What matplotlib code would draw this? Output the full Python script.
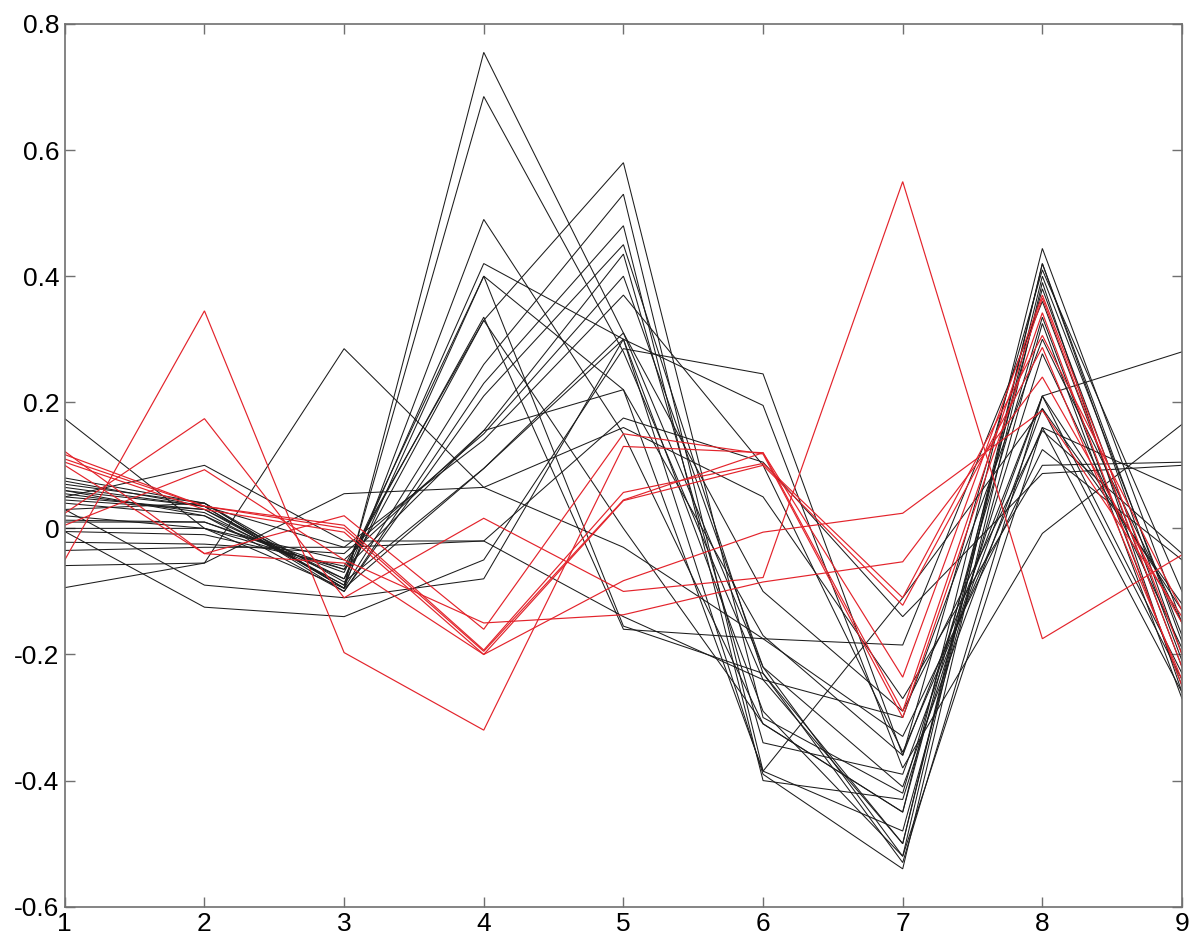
import matplotlib
matplotlib.use("Agg")
import matplotlib.pyplot as plt

# --------------------------------------------------------------------------- #
#  DATA  (one row per profile)
# --------------------------------------------------------------------------- #
positions = [1, 2, 3, 4, 5, 6, 7, 8, 9]

black_profiles = [
    [0.060, 0.035, -0.095, 0.755, 0.310, -0.220, -0.520, 0.420, -0.200],
    [0.050, 0.030, -0.090, 0.685, 0.280, -0.240, -0.500, 0.400, -0.170],
    [0.070, 0.040, -0.095, 0.490, 0.150, -0.310, -0.450, 0.444, -0.150],
    [0.040, 0.020, -0.080, 0.420, 0.300, -0.390, -0.540, 0.390, -0.260],
    [0.013, 0.010, -0.070, 0.400, 0.220, -0.170, -0.360, 0.410, -0.100],
    [0.000, 0.000, -0.065, 0.335, -0.160, -0.175, -0.185, 0.360, -0.220],
    [-0.005, -0.010, -0.060, 0.330, 0.580, -0.300, -0.420, 0.335, -0.250],
    [0.080, 0.040, -0.095, 0.260, 0.530, -0.385, -0.480, 0.325, -0.270],
    [0.075, 0.035, -0.100, 0.230, 0.480, -0.400, -0.430, 0.277, -0.190],
    [0.060, 0.020, -0.100, 0.210, 0.450, -0.230, -0.530, 0.210, -0.130],
    [0.020, 0.000, -0.050, 0.155, 0.435, -0.340, -0.390, 0.210, -0.230],
    [-0.022, -0.025, -0.040, 0.150, 0.400, -0.220, -0.410, 0.190, -0.240],
    [-0.035, -0.030, -0.030, 0.140, 0.370, 0.100, -0.355, 0.160, 0.060],
    [0.174, 0.000, -0.095, 0.095, 0.310, -0.100, -0.290, 0.155, -0.040],
    [-0.059, -0.055, 0.285, 0.065, -0.030, -0.175, -0.330, 0.125, -0.050],
    [-0.094, -0.055, 0.055, 0.065, 0.160, 0.050, -0.270, 0.100, 0.105],
    [0.050, 0.100, -0.020, -0.020, 0.175, 0.105, -0.140, 0.087, 0.100],
    [0.030, -0.090, -0.110, -0.080, 0.300, 0.195, -0.380, -0.008, 0.165],
    [-0.005, -0.125, -0.140, -0.050, 0.285, 0.245, -0.360, 0.210, 0.280],
    [0.065, 0.035, -0.030, -0.020, -0.140, -0.240, -0.300, 0.300, -0.150],
    [0.045, 0.030, -0.080, 0.330, 0.000, -0.310, -0.450, 0.380, -0.210],
    [0.055, 0.025, -0.090, 0.400, -0.155, -0.230, -0.500, 0.420, -0.180],
    [0.010, 0.010, -0.065, 0.155, 0.220, -0.385, -0.110, 0.190, -0.120],
    [0.030, 0.040, -0.085, 0.095, 0.300, -0.290, -0.520, 0.160, -0.260],
]

red_profiles = [
    [-0.050, 0.345, -0.197, -0.320, 0.130, 0.120, -0.236, 0.370, -0.200],
    [0.024, 0.174, -0.110, 0.016, -0.100, -0.078, 0.550, -0.175, -0.042],
    [0.005, 0.093, -0.050, -0.150, -0.137, -0.085, -0.053, 0.240, -0.150],
    [0.122, -0.040, 0.020, -0.160, 0.150, 0.118, -0.300, 0.342, -0.250],
    [0.117, 0.035, 0.005, -0.193, 0.057, 0.103, -0.110, 0.306, -0.130],
    [0.105, 0.030, -0.006, -0.200, 0.044, 0.100, -0.122, 0.287, -0.240],
    [0.100, -0.040, -0.055, -0.200, -0.083, -0.006, 0.024, 0.187, -0.140],
    [0.110, 0.035, 0.000, -0.195, 0.045, 0.120, -0.290, 0.365, -0.220],
]

y_ticks = [-0.6, -0.4, -0.2, 0, 0.2, 0.4, 0.6, 0.8]
y_labels = ["-0.6", "-0.4", "-0.2", "0", "0.2", "0.4", "0.6", "0.8"]

# --------------------------------------------------------------------------- #
#  STYLE
# --------------------------------------------------------------------------- #
BLACK = "#1c1c1c"
RED = "#e3232b"
FRAME = "#707070"

plt.rcParams.update({
    "font.family": ["Liberation Sans", "DejaVu Sans"],
    "font.size": 19,
})

fig = plt.figure(figsize=(12, 9.51), dpi=100)
ax = fig.add_axes([0.054, 0.0466, 0.931, 0.9282])

for prof in black_profiles:
    ax.plot(positions, prof, color=BLACK, lw=0.75, solid_joinstyle="miter")
for prof in red_profiles:
    ax.plot(positions, prof, color=RED, lw=0.85, solid_joinstyle="miter")

ax.set_xlim(1, 9)
ax.set_ylim(-0.6, 0.8)
ax.set_xticks(positions)
ax.set_xticklabels([str(p) for p in positions])
ax.set_yticks(y_ticks)
ax.set_yticklabels(y_labels)

for sp in ax.spines.values():
    sp.set_color(FRAME)
    sp.set_linewidth(1.2)
ax.tick_params(direction="in", length=7, width=1.0, color=FRAME,
               top=True, right=True, labelsize=19, pad=4)

fig.savefig("out.png", dpi=100, facecolor="white")
